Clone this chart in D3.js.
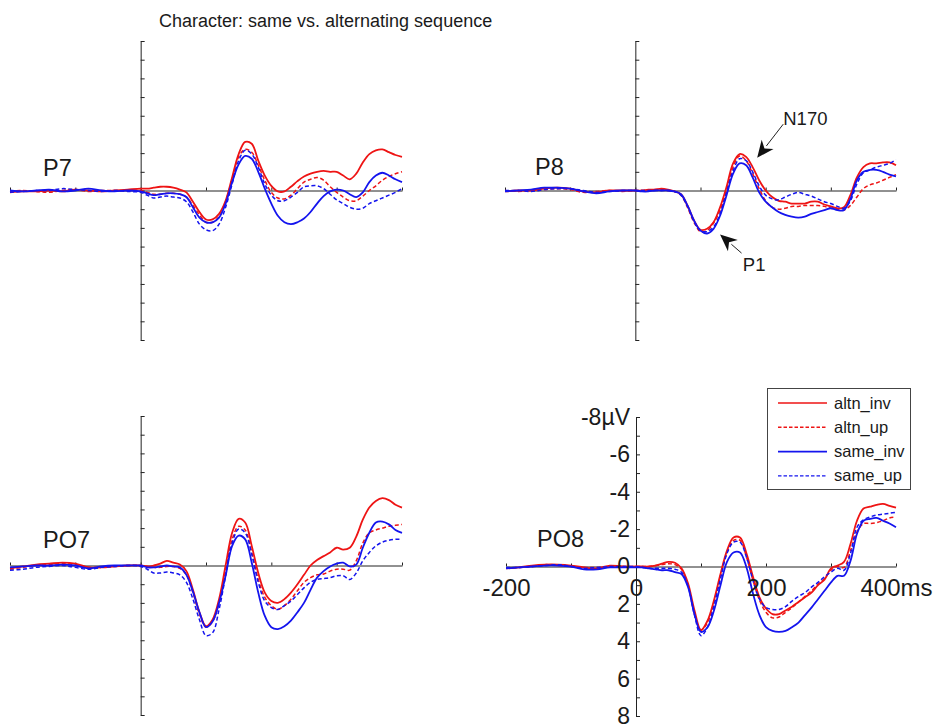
<!DOCTYPE html>
<html><head><meta charset="utf-8">
<script src="https://cdn.jsdelivr.net/npm/d3@7/dist/d3.min.js"></script>
<style>
html,body{margin:0;padding:0;background:#fff;}
svg{display:block;font-family:"Liberation Sans",Arial,sans-serif;}
</style></head>
<body>
<script>
// ---------- data ----------
const times = [-200,-180,-160,-140,-120,-100,-80,-60,-40,-20,
  0,10,20,30,40,50,60,70,80,90,100,110,120,130,140,150,160,170,180,190,
  200,210,220,230,240,250,260,270,280,290,300,310,320,330,340,350,360,370,380,390,400];

const seriesNames = ["altn_inv","altn_up","same_inv","same_up"];
const panelNames = ["P7","P8","PO7","PO8"];

// amplitudes in µV (negative plotted upward)
const p7_altn_inv = [0.1,0.05,0.05,0,0.05,-0.05,0,0.05,0,-0.05,
  -0.1,-0.1,-0.15,-0.2,-0.2,-0.15,-0.05,0.1,0.6,1.15,1.55,1.55,1.25,0.55,-0.7,-1.95,-2.6,-2.5,-1.6,-0.8,
  -0.25,0.05,0.05,-0.2,-0.5,-0.75,-0.9,-1.0,-1.05,-1.0,-1.0,-0.8,-0.6,-0.9,-1.5,-1.95,-2.15,-2.2,-2.05,-1.9,-1.8];
const p7_altn_up = [0.05,0,0.05,0.1,0,-0.05,0.05,0,0,0,
  0,0.1,0.2,0.2,0.15,0.15,0.2,0.35,0.8,1.3,1.7,1.7,1.4,0.6,-0.6,-1.8,-2.2,-2.05,-1.35,-0.55,
  0.1,0.4,0.45,0.25,-0.1,-0.45,-0.6,-0.7,-0.55,-0.2,0.1,0.35,0.55,0.55,0.3,0,-0.25,-0.55,-0.75,-0.9,-1.0];
const p7_same_inv = [0,0.05,0,-0.05,0.05,0,-0.1,0,0.05,0,
  0.05,0.15,0.25,0.2,0.15,0.15,0.2,0.35,0.9,1.45,1.7,1.7,1.45,0.7,-0.45,-1.4,-1.85,-1.7,-1.0,-0.1,
  0.7,1.35,1.7,1.8,1.7,1.5,1.15,0.7,0.3,0.05,-0.05,0,0.2,0.35,0.1,-0.45,-0.8,-0.95,-0.8,-0.6,-0.45];
const p7_same_up = [0.1,0.05,0,0,-0.1,-0.05,0,0.05,0,0.05,
  0.1,0.25,0.4,0.35,0.3,0.35,0.4,0.6,1.15,1.8,2.1,2.15,1.8,0.9,-0.35,-1.6,-2.15,-1.95,-1.25,-0.35,
  0.25,0.55,0.55,0.35,0.1,-0.2,-0.25,-0.25,-0.1,0.2,0.5,0.7,0.9,1.0,0.95,0.7,0.55,0.4,0.25,0.1,-0.1];

const p8_altn_inv = [0.05,0,0,-0.1,-0.15,-0.1,0.05,0.1,0,0,
  0,0,-0.05,-0.05,-0.1,-0.05,0.05,0.2,0.8,1.6,2.1,2.05,1.7,0.9,-0.2,-1.45,-1.95,-1.8,-1.25,-0.55,
  0,0.35,0.55,0.6,0.7,0.7,0.7,0.6,0.6,0.75,0.85,0.95,0.9,0.25,-0.7,-1.25,-1.45,-1.45,-1.5,-1.5,-1.35];
const p8_altn_up = [0,0.05,0,-0.05,-0.1,-0.05,0.1,0.05,0,0.05,
  0,0,0,-0.05,-0.05,0,0.05,0.25,0.9,1.7,2.2,2.15,1.75,1.05,0,-1.25,-1.85,-1.6,-0.9,-0.1,
  0.55,0.9,1.0,0.95,0.85,0.85,0.8,0.8,0.8,0.85,0.95,1.0,1.05,0.8,0.35,-0.1,-0.3,-0.4,-0.55,-0.7,-0.85];
const p8_same_inv = [0.05,0,-0.05,-0.15,-0.15,-0.1,0.05,0.15,0.05,0,
  0,0.05,0.05,0,0,0,0.05,0.2,0.8,1.6,2.15,2.3,2.05,1.35,0.25,-0.9,-1.45,-1.35,-0.7,0.1,
  0.6,0.9,1.15,1.3,1.4,1.45,1.4,1.25,1.15,1.05,0.95,1.05,1.05,0.45,-0.55,-1.0,-1.1,-1.1,-1.0,-0.85,-0.75];
const p8_same_up = [0,0,0.05,-0.05,-0.1,-0.1,0,0.1,0.05,0,
  0,0,0,0,0,0,0.05,0.25,0.85,1.65,2.15,2.2,1.95,1.25,0.1,-1.05,-1.7,-1.6,-1.0,-0.25,
  0.25,0.45,0.5,0.35,0.2,0.1,0.2,0.3,0.45,0.6,0.7,0.85,0.95,0.55,-0.35,-0.95,-1.1,-1.25,-1.35,-1.45,-1.65];

const po7_altn_inv = [0.15,0.05,-0.05,-0.1,-0.15,-0.1,0.1,0.1,0.05,0,
  0,0.05,0,-0.1,-0.25,-0.15,-0.05,0.3,1.3,2.5,3.25,2.9,1.8,0,-1.75,-2.5,-2.3,-1.05,0.4,1.45,
  1.9,2.0,1.8,1.45,1.0,0.5,0,-0.3,-0.5,-0.7,-0.95,-0.85,-0.95,-1.55,-2.45,-3.1,-3.45,-3.6,-3.5,-3.25,-3.1];
const po7_altn_up = [0.2,0.1,0,-0.05,-0.1,-0.05,0.1,0.1,0.05,0,
  0,0.05,0.1,0.1,0.05,0.05,0.15,0.5,1.45,2.6,3.3,3.0,2.0,0.3,-1.4,-2.1,-1.9,-0.7,0.75,1.7,
  2.15,2.35,2.15,1.8,1.35,0.9,0.65,0.5,0.45,0.3,0.2,0.2,0.25,-0.25,-1.2,-1.75,-1.9,-2.0,-2.1,-2.15,-2.2];
const po7_same_inv = [0.1,0.05,0,0,-0.05,0,0.15,0.05,0,0,
  0,0.1,0.1,0.05,0,0.05,0.1,0.5,1.4,2.5,3.3,3.0,2.0,0.55,-1.05,-1.6,-1.4,-0.15,1.45,2.7,
  3.3,3.4,3.25,2.95,2.5,2.0,1.3,0.65,0.3,0.05,-0.1,-0.15,0.05,-0.05,-0.95,-1.75,-2.3,-2.35,-2.2,-1.9,-1.75];
const po7_same_up = [0.25,0.2,0.1,0.05,0,0.1,0.2,0.1,0.05,0,
  0.05,0.2,0.4,0.4,0.35,0.4,0.5,0.9,1.8,2.9,3.75,3.6,2.35,0.55,-1.2,-1.95,-1.75,-0.6,0.9,1.9,
  2.25,2.35,2.15,1.9,1.55,1.2,0.9,0.75,0.7,0.65,0.55,0.55,0.75,0.4,-0.25,-0.7,-1.05,-1.25,-1.35,-1.4,-1.4];

const po8_altn_inv = [0.1,0.05,-0.05,-0.1,-0.1,-0.05,0.05,0.1,-0.05,0,
  0,0,0,-0.05,-0.15,-0.25,-0.2,0.1,0.9,2.35,3.4,2.9,1.8,0.4,-0.85,-1.55,-1.55,-0.7,0.55,1.65,
  2.25,2.55,2.55,2.35,2.15,1.9,1.65,1.4,1.0,0.7,0.1,-0.05,-0.25,-1.2,-2.45,-3.1,-3.2,-3.3,-3.35,-3.25,-3.15];
const po8_altn_up = [0.1,0.05,0,-0.1,-0.05,0,0.05,0.05,0,0,
  0,0,0,-0.05,-0.1,-0.15,-0.1,0.15,1.0,2.55,3.4,3.0,1.9,0.5,-0.75,-1.4,-1.4,-0.5,0.75,1.8,
  2.45,2.75,2.7,2.45,2.2,1.9,1.6,1.3,0.95,0.65,0.2,0,0.05,-0.85,-1.85,-2.3,-2.3,-2.35,-2.45,-2.6,-2.65];
const po8_same_inv = [0.1,0.05,0,-0.05,-0.05,0,0.15,0.15,0.05,0.05,
  0.05,0.05,0.1,0.15,0.2,0.2,0.3,0.4,1.1,2.55,3.5,3.25,2.35,1.0,-0.25,-0.75,-0.75,0.05,1.45,2.6,
  3.25,3.45,3.5,3.45,3.25,3.0,2.6,2.2,1.75,1.3,0.85,0.5,0.5,-0.3,-1.75,-2.45,-2.55,-2.6,-2.45,-2.3,-2.1];
const po8_same_up = [0.05,0.05,0,-0.05,-0.1,0,0.1,0.05,0,0,
  0,0.05,0.1,0.1,0.1,0.1,0.15,0.3,1.05,2.6,3.7,3.25,2.1,0.65,-0.7,-1.3,-1.3,-0.5,0.75,1.75,
  2.2,2.3,2.3,2.15,1.85,1.6,1.4,1.1,0.85,0.55,0.3,0.1,0.2,-0.7,-2.1,-2.5,-2.65,-2.75,-2.8,-2.85,-2.9];

const yLabelValues = [-8,-6,-4,-2,0,2,4,6,8];
const yTickLabels = ["-8µV","-6","-4","-2","0","2","4","6","8"];
const xLabelValues = [-200,0,200,400];
const xTickLabels = ["-200","0","200","400ms"];
const titleText = "Character: same vs. alternating sequence";

// ---------- build table ----------
const panelSeries = {
  P7: [p7_altn_inv,p7_altn_up,p7_same_inv,p7_same_up],
  P8: [p8_altn_inv,p8_altn_up,p8_same_inv,p8_same_up],
  PO7:[po7_altn_inv,po7_altn_up,po7_same_inv,po7_same_up],
  PO8:[po8_altn_inv,po8_altn_up,po8_same_inv,po8_same_up]
};

// ---------- layout / style ----------
const W = 933, H = 724;
const RED = "#ee1414", BLUE = "#1414ee";
const styles = {
  altn_inv:{color:RED, dash:null, w:1.8},
  altn_up:{color:RED, dash:"4,2.5", w:1.5},
  same_inv:{color:BLUE, dash:null, w:1.8},
  same_up:{color:BLUE, dash:"4,2.5", w:1.5}
};
const geom = {
  P7: {x0:10, x1:402, y0:41, y1:340, lx:43, ly:176},
  P8: {x0:505, x1:896, y0:41, y1:340, lx:535, ly:175},
  PO7:{x0:10, x1:402, y0:416, y1:715, lx:43, ly:548},
  PO8:{x0:506, x1:896, y0:417, y1:716, lx:537, ly:547}
};

const svg = d3.select("body").append("svg").attr("width",W).attr("height",H);

svg.append("text").attr("x",159).attr("y",27)
  .attr("font-size",18).attr("fill","#1a1a1a").text(titleText);

const scales = {};
panelNames.forEach(pn => {
  const g = geom[pn];
  const x = d3.scaleLinear().domain([-200,400]).range([g.x0,g.x1]);
  const y = d3.scaleLinear().domain([-8,8]).range([g.y0,g.y1]);
  scales[pn] = {x,y};
  const gp = svg.append("g");

  // y axis (vertical line at t=0)
  const ya = gp.append("g").attr("transform",`translate(${x(0)},0)`)
    .call(d3.axisRight(y).tickValues(d3.range(-8,9)).tickSize(4).tickSizeOuter(0).tickFormat(""));
  ya.selectAll("path,line").attr("stroke","#222").attr("stroke-width",1);

  // x axis (horizontal at 0 µV)
  const xa = gp.append("g").attr("transform",`translate(0,${y(0)})`)
    .call(d3.axisTop(x).tickValues([-200,-100,0,100,200,300,400]).tickSize(3).tickSizeOuter(0).tickFormat(""));
  xa.selectAll("path,line").attr("stroke","#222").attr("stroke-width",1);

  // curves
  const line = d3.line().x((d,i)=>x(times[i])).y(d=>y(d)).curve(d3.curveCatmullRom.alpha(0.5));
  panelSeries[pn].forEach((vals,si) => {
    const st = styles[seriesNames[si]];
    gp.append("path").datum(vals.slice(0,times.length))
      .attr("d",line).attr("fill","none")
      .attr("stroke",st.color).attr("stroke-width",st.w)
      .attr("stroke-dasharray",st.dash).attr("stroke-linejoin","round");
  });

  // panel label
  gp.append("text").attr("x",g.lx).attr("y",g.ly).attr("font-size",23.5)
    .attr("fill","#1a1a1a").text(pn);
});

// tick labels on PO8
{
  const {x,y} = scales.PO8;
  const yl = svg.append("g").attr("transform",`translate(${x(0)},0)`)
    .call(d3.axisLeft(y).tickValues(yLabelValues).tickSize(0).tickPadding(6)
      .tickFormat((d,i)=>yTickLabels[i]));
  yl.select(".domain").remove();
  yl.selectAll("text").attr("font-size",23).attr("font-family","Liberation Sans, Arial, sans-serif").attr("fill","#1a1a1a");

  const xl = svg.append("g").attr("transform",`translate(0,${y(0)})`)
    .call(d3.axisBottom(x).tickValues(xLabelValues).tickSize(0).tickPadding(12)
      .tickFormat((d,i)=>xTickLabels[i]));
  xl.select(".domain").remove();
  xl.selectAll("text").attr("font-size",24).attr("font-family","Liberation Sans, Arial, sans-serif").attr("fill","#1a1a1a");
}

// legend
{
  const lg = svg.append("g");
  lg.append("rect").attr("x",767.5).attr("y",388.5).attr("width",143).attr("height",101)
    .attr("fill","#fff").attr("stroke","#444").attr("stroke-width",1);
  seriesNames.forEach((s,i) => {
    const yy = 403 + i*24.3;
    const st = styles[s];
    lg.append("line").attr("x1",778).attr("x2",827).attr("y1",yy).attr("y2",yy)
      .attr("stroke",st.color).attr("stroke-width",st.dash?1.4:1.6).attr("stroke-dasharray",st.dash?"3.5,2":null);
    lg.append("text").attr("x",834).attr("y",yy+5.5).attr("font-size",16.5).attr("fill","#1a1a1a").text(s);
  });
}

// annotations on P8 (data coordinates)
{
  const {x,y} = scales.P8;
  const ann = [
    {label:"N170", tip:[187,-1.75], tail:[227,-3.55], text:[227,-3.5], anchor:"start"},
    {label:"P1", tip:[130,2.35], tail:[163,3.35], text:[165,4.3], anchor:"start"}
  ];
  ann.forEach(a => {
    const tx = x(a.tip[0]), ty = y(a.tip[1]);
    const sx = x(a.tail[0]), sy = y(a.tail[1]);
    const dx = tx - sx, dy = ty - sy, L = Math.hypot(dx,dy);
    const ux = dx/L, uy = dy/L, px = -uy, py = ux;
    const hl = 17, hw = 7.5;
    const bx = tx - ux*hl, by = ty - uy*hl;
    const nx = tx - ux*hl*0.7, ny = ty - uy*hl*0.7;
    svg.append("line").attr("x1",sx).attr("y1",sy).attr("x2",bx+ux*2).attr("y2",by+uy*2)
      .attr("stroke","#222").attr("stroke-width",1);
    svg.append("path")
      .attr("d",`M${tx},${ty}L${bx+px*hw},${by+py*hw}L${nx},${ny}L${bx-px*hw},${by-py*hw}Z`)
      .attr("fill","#111");
    svg.append("text").attr("x",x(a.text[0])).attr("y",y(a.text[1]))
      .attr("font-size",18.5).attr("fill","#1a1a1a").attr("text-anchor",a.anchor).text(a.label);
  });
}
</script>
</body></html>
